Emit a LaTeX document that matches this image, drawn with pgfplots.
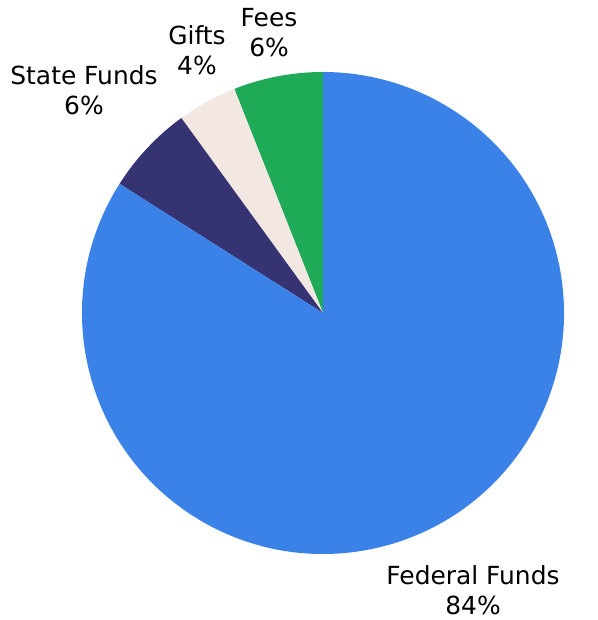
\documentclass[border=0pt]{standalone}
\usepackage{pgfplots}
\usepackage{pgfplotstable}
\pgfplotsset{compat=1.18}
\usepackage{fontspec}
\setmainfont{DejaVu Sans}

\definecolor{cfees}{HTML}{1FAA58}
\definecolor{cgifts}{HTML}{F2E7E1}
\definecolor{cstate}{HTML}{363372}
\definecolor{cfed}{HTML}{3B82E8}

% shares in percent, counter-clockwise from the top
\pgfplotstableread{
name value colour lx ly
Fees 6 cfees 269 587
Gifts 4 cgifts 197 570
{State Funds} 6 cstate 84 530
{Federal Funds} 84 cfed 473 30
}\piedata

\begin{document}
\begin{tikzpicture}
\begin{axis}[
  width=567bp, height=620bp, scale only axis,
  xmin=0, xmax=567, ymin=0, ymax=620,
  hide axis, clip=false,
]
% keep the whole canvas in the bounding box
\path (axis cs:0,0) rectangle (axis cs:567,620);
\def\start{90}
\pgfplotsinvokeforeach{0,...,3}{
  \pgfplotstablegetelem{#1}{value}\of\piedata
  \pgfmathsetmacro\stop{\start+3.6*\pgfplotsretval}
  \edef\val{\pgfplotsretval}
  \pgfplotstablegetelem{#1}{colour}\of\piedata
  \edef\col{\pgfplotsretval}
  \pgfplotstablegetelem{#1}{name}\of\piedata
  \edef\nm{\pgfplotsretval}
  \pgfplotstablegetelem{#1}{lx}\of\piedata
  \edef\lx{\pgfplotsretval}
  \pgfplotstablegetelem{#1}{ly}\of\piedata
  \edef\ly{\pgfplotsretval}
  \edef\cmd{%
    \noexpand\fill[\col] (axis cs:323,307) -- ++(\start:241bp)
      arc[start angle=\start, end angle=\stop, radius=241bp] -- cycle;
    \noexpand\node[align=center, inner sep=0pt,
      font=\noexpand\fontsize{25}{30}\noexpand\selectfont]
      at (axis cs:\lx,\ly) {\nm\noexpand\\\val\noexpand\%};
  }\cmd
  \global\let\start\stop
}
\end{axis}
\end{tikzpicture}
\end{document}
